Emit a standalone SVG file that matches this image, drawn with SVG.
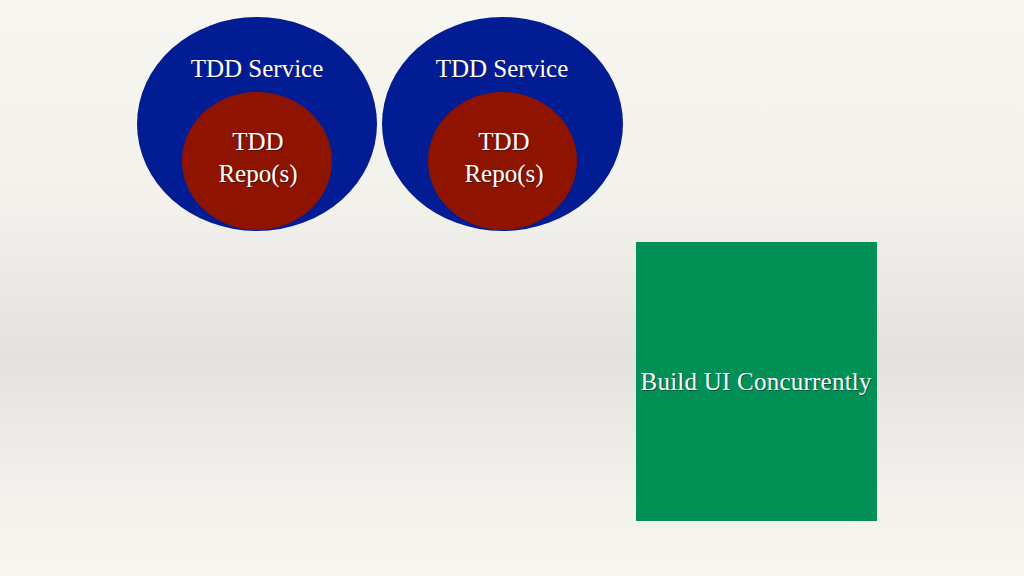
<svg xmlns="http://www.w3.org/2000/svg" width="1024" height="576" viewBox="0 0 1024 576">
  <defs>
    <linearGradient id="bg" x1="0" y1="0" x2="0" y2="1">
      <stop offset="0" stop-color="#F8F6F1"/>
      <stop offset="0.35" stop-color="#F3F1EC"/>
      <stop offset="0.62" stop-color="#E4E2DE"/>
      <stop offset="0.85" stop-color="#F3F1EC"/>
      <stop offset="1" stop-color="#F8F6F1"/>
    </linearGradient>
  </defs>
  <style>
    .svc { fill: #021C93; }
    .repo { fill: #8E1300; }
    .ui { fill: #019055; }
    .lbl { font-family: "Liberation Serif", "DejaVu Serif", serif; font-size: 25px; fill: #FFFFFF; text-anchor: middle; }
    .sh { fill: #1A1A1A; fill-opacity: 0.55; }
  </style>
  <rect x="0" y="0" width="1024" height="576" fill="url(#bg)"/>
  <g id="service1">
    <ellipse class="svc" cx="257" cy="124" rx="120" ry="107"/>
    <text class="lbl sh" x="258" y="78">TDD Service</text>
    <text class="lbl" x="257" y="77">TDD Service</text>
  </g>
  <g id="repo1">
    <ellipse class="repo" cx="257" cy="161" rx="75" ry="69"/>
    <text class="lbl sh" x="259" y="151">TDD</text>
    <text class="lbl" x="258" y="150">TDD</text>
    <text class="lbl sh" x="259" y="183">Repo(s)</text>
    <text class="lbl" x="258" y="182">Repo(s)</text>
  </g>
  <g id="service2">
    <ellipse class="svc" cx="502.5" cy="124" rx="120.5" ry="107"/>
    <text class="lbl sh" x="503" y="78">TDD Service</text>
    <text class="lbl" x="502" y="77">TDD Service</text>
  </g>
  <g id="repo2">
    <ellipse class="repo" cx="502.5" cy="161" rx="74.5" ry="69"/>
    <text class="lbl sh" x="505" y="151">TDD</text>
    <text class="lbl" x="504" y="150">TDD</text>
    <text class="lbl sh" x="505" y="183">Repo(s)</text>
    <text class="lbl" x="504" y="182">Repo(s)</text>
  </g>
  <g id="ui">
    <rect class="ui" x="636" y="242" width="241" height="279"/>
    <text class="lbl sh" x="757" y="391" textLength="231">Build UI Concurrently</text>
    <text class="lbl" x="756" y="390" textLength="231">Build UI Concurrently</text>
  </g>
  <g id="connectors"/>
</svg>
